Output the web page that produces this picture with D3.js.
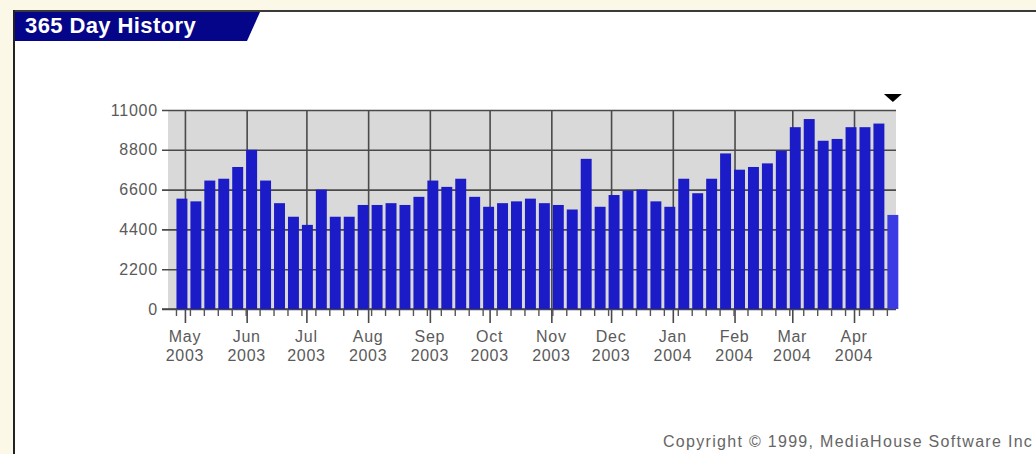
<!DOCTYPE html>
<html>
<head>
<meta charset="utf-8">
<script src="https://cdn.jsdelivr.net/npm/d3@7"></script>
<style>
body { margin: 0; background: #fcf8e7; }
text { font-family: "Liberation Sans", Arial, sans-serif; }
</style>
</head>
<body>
<div id="chart"></div>
<script>
// weekly hits, one bar per week (last one is the current, partial week)
const weeklyHits = [6100, 5950, 7100, 7200, 7850, 8800, 7100, 5850, 5100, 4650, 6600, 5100, 5100,
  5750, 5750, 5850, 5750, 6200, 7100, 6750, 7200, 6200, 5650, 5850, 5950, 6100, 5850, 5750, 5500,
  8300, 5650, 6300, 6550, 6600, 5950, 5650, 7200, 6400, 7200, 8600, 7700, 7850, 8050, 8750,
  10050, 10500, 9300, 9400, 10050, 10050, 10250, 5200]
const firstWeek = new Date(Date.UTC(2003, 3, 26))
const monthNames = ["May", "Jun", "Jul", "Aug", "Sep", "Oct", "Nov", "Dec", "Jan", "Feb", "Mar", "Apr"]
const monthYears = ["2003", "2003", "2003", "2003", "2003", "2003", "2003", "2003", "2004", "2004", "2004", "2004"]
const yTicks = [0, 2200, 4400, 6600, 8800, 11000]

const width = 1036
const height = 454
const plot = { left: 168, right: 896, top: 110, bottom: 309 }

const svg = d3.select("#chart").append("svg").attr("width", width).attr("height", height)

// frame + title tab
svg.append("rect").attr("x", 13).attr("y", 10).attr("width", width - 13).attr("height", height - 10).attr("fill", "#ffffff")
svg.append("line").attr("x1", 13).attr("x2", width).attr("y1", 11).attr("y2", 11).attr("stroke", "#3a3a3a").attr("stroke-width", 2)
svg.append("line").attr("x1", 14).attr("x2", 14).attr("y1", 10).attr("y2", height).attr("stroke", "#222").attr("stroke-width", 2)
svg.append("polygon").attr("points", "15,12 260,12 247,41 15,41").attr("fill", "#05058a")
svg.append("text").attr("x", 25).attr("y", 33).attr("fill", "#fff").attr("font-size", 22)
  .attr("font-weight", "bold").attr("letter-spacing", 0.4).text("365 Day History")

// scales
const weekStarts = weeklyHits.map((d, i) => d3.utcDay.offset(firstWeek, i * 7))
const monthStarts = d3.utcMonths(new Date(Date.UTC(2003, 4, 1)), new Date(Date.UTC(2004, 4, 1)))
const x = d3.scaleUtc()
  .domain([new Date(Date.UTC(2003, 3, 22, 12)), new Date(Date.UTC(2004, 3, 22, 2))])
  .range([plot.left, plot.right])
const y = d3.scaleLinear().domain([0, 11000]).range([plot.bottom, plot.top])

svg.append("rect").attr("x", plot.left).attr("y", plot.top)
  .attr("width", plot.right - plot.left).attr("height", plot.bottom - plot.top).attr("fill", "#d9d9d9")

// y axis + horizontal grid
const yAxisGroup = svg.append("g").attr("transform", `translate(162,0)`)
  .call(d3.axisLeft(y).tickValues(yTicks).tickFormat(d3.format("d")).tickSize(-(plot.right - 162)).tickPadding(4))
yAxisGroup.select(".domain").remove()
yAxisGroup.selectAll(".tick line").attr("stroke", "#4a4a4a").attr("stroke-width", 1.6)
yAxisGroup.selectAll(".tick text").attr("fill", "#5a5a5a").attr("font-size", 16)
  .attr("letter-spacing", 0.8).attr("font-family", "Liberation Sans, Arial, sans-serif")

// month grid lines reaching below the axis
const monthGroup = svg.append("g").attr("transform", `translate(0,${plot.top})`)
  .call(d3.axisBottom(x).tickValues(monthStarts).tickSize(323 - plot.top).tickFormat(""))
monthGroup.select(".domain").remove()
monthGroup.selectAll(".tick line").attr("stroke", "#4a4a4a").attr("stroke-width", 1.6)

// week ticks
const weekGroup = svg.append("g").attr("transform", `translate(1,${plot.bottom})`)
  .call(d3.axisBottom(x).tickValues(weekStarts).tickSize(7).tickFormat(""))
weekGroup.select(".domain").remove()
weekGroup.selectAll(".tick line").attr("stroke", "#555").attr("stroke-width", 1.4)

svg.append("line").attr("x1", 162).attr("x2", plot.right).attr("y1", plot.bottom).attr("y2", plot.bottom)
  .attr("stroke", "#444").attr("stroke-width", 1.6)

// bars
svg.append("g").selectAll("rect").data(weeklyHits).enter().append("rect")
  .attr("x", (d, i) => x(weekStarts[i]) + 1.5)
  .attr("width", (d, i) => x(d3.utcDay.offset(weekStarts[i], 7)) - x(weekStarts[i]) - 3)
  .attr("y", d => y(d))
  .attr("height", d => y(0) - y(d))
  .attr("fill", (d, i) => i == weeklyHits.length - 1 ? "#3b3be4" : "#1b1bc8")

// month labels
const labels = svg.append("g").selectAll("text").data(monthStarts).enter().append("text")
  .attr("text-anchor", "middle").attr("fill", "#5a5a5a").attr("font-size", 16).attr("letter-spacing", 0.7)
labels.append("tspan").attr("x", d => x(d)).attr("y", 342).text((d, i) => monthNames[i])
labels.append("tspan").attr("x", d => x(d)).attr("y", 361).text((d, i) => monthYears[i])

// current week marker
const last = weekStarts[weekStarts.length - 1]
const cx = x(d3.utcHour.offset(last, 84))
svg.append("path").attr("d", `M${cx - 9},94 L${cx + 9},94 L${cx},102 Z`).attr("fill", "#000")

svg.append("text").attr("x", 663).attr("y", 447).attr("fill", "#666").attr("font-size", 16)
  .attr("letter-spacing", 1.3).text("Copyright © 1999, MediaHouse Software Inc")
</script>
</body>
</html>
